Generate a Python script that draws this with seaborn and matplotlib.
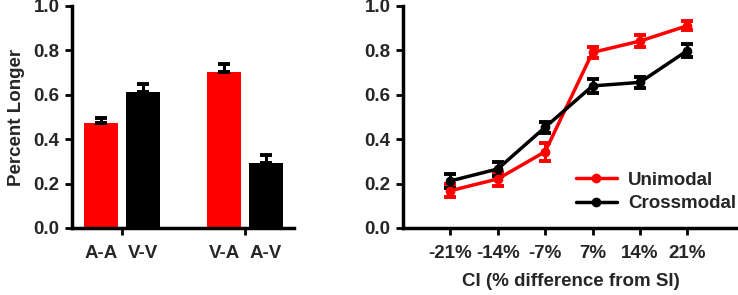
import matplotlib
matplotlib.use("Agg")
import matplotlib.pyplot as plt
import seaborn as sns
import pandas as pd
import numpy as np

# ---- data ----
bar_labels = ["A-A", "V-V", "V-A", "A-V"]
bar_group = ["G1", "G1", "G2", "G2"]
bar_kind = ["same", "cross", "same", "cross"]
bar_values = [0.473, 0.614, 0.704, 0.294]
bar_errors = [0.022, 0.035, 0.033, 0.033]

ci_labels = ["-21%", "-14%", "-7%", "7%", "14%", "21%"]
uni_values = [0.168, 0.221, 0.344, 0.791, 0.842, 0.911]
uni_errors = [0.030, 0.030, 0.040, 0.025, 0.028, 0.020]
cross_values = [0.212, 0.266, 0.454, 0.640, 0.656, 0.799]
cross_errors = [0.030, 0.030, 0.025, 0.030, 0.025, 0.030]

sns.set_theme(style="ticks")
plt.rcParams["font.family"] = ["Liberation Sans", "DejaVu Sans"]
plt.rcParams["font.weight"] = "bold"

RED = "#ff0000"
BLK = "#000000"
FS = 13.5

fig = plt.figure(figsize=(7.38, 2.95), dpi=100)
ax1 = fig.add_axes([72/738, 67/295, 222/738, 222/295])
ax2 = fig.add_axes([403/738, 67/295, 335/738, 222/295])

# ---- left: bars ----
df_bar = pd.DataFrame({"group": bar_group, "kind": bar_kind,
                       "value": bar_values, "label": bar_labels})
sns.barplot(data=df_bar, x="group", y="value", hue="kind",
            palette={"same": RED, "cross": BLK}, width=0.683, gap=0.2,
            ax=ax1, legend=False, saturation=1, edgecolor="none")
patches = sorted([p for p in ax1.patches if p.get_height() > 0], key=lambda p: p.get_x())
centers = [p.get_x() + p.get_width() / 2 for p in patches]
heights = [p.get_height() for p in patches]
ax1.errorbar(centers, heights, yerr=[np.zeros(len(bar_errors)), bar_errors],
             fmt="none", ecolor=BLK, elinewidth=2.2, capsize=4.5, capthick=2.8, zorder=3)
ax1.set_xlim(-0.407, 1.398)
ax1.set_ylim(0, 1.0)
ax1.set_yticks([0, 0.2, 0.4, 0.6, 0.8, 1.0])
ax1.set_yticklabels(["0.0", "0.2", "0.4", "0.6", "0.8", "1.0"], fontsize=FS, fontweight="bold")
ax1.set_xticks([0, 1])
ax1.set_xticklabels(["", ""])
ax1.set_xticks(centers, minor=True)
ax1.set_xticklabels(bar_labels, minor=True, fontsize=FS, fontweight="bold")
ax1.tick_params(axis="x", which="minor", length=0, pad=12)
ax1.tick_params(axis="x", which="major", length=5, width=2, direction="out", color=BLK)
ax1.tick_params(axis="y", length=5, width=2, color=BLK, pad=4)
ax1.set_xlabel("")
ax1.set_ylabel("Percent Longer", fontsize=FS, fontweight="bold", labelpad=6)
for s in ["top", "right"]:
    ax1.spines[s].set_visible(False)
for s in ["left", "bottom"]:
    ax1.spines[s].set_linewidth(2.5)
    ax1.spines[s].set_color(BLK)

# ---- right: lines ----
xpos = list(range(len(ci_labels)))
df_line = pd.DataFrame({
    "x": xpos * 2,
    "y": uni_values + cross_values,
    "cond": ["Unimodal"] * 6 + ["Crossmodal"] * 6,
})
ax2.errorbar(xpos, uni_values, yerr=uni_errors, fmt="none", ecolor=RED,
             elinewidth=2.2, capsize=4.5, capthick=2.8, zorder=1)
ax2.errorbar(xpos, cross_values, yerr=cross_errors, fmt="none", ecolor=BLK,
             elinewidth=2.2, capsize=4.5, capthick=2.8, zorder=1)
sns.lineplot(data=df_line, x="x", y="y", hue="cond",
             palette={"Unimodal": RED, "Crossmodal": BLK},
             marker="o", markersize=7, markeredgewidth=0, linewidth=2.5,
             ax=ax2, legend=True, hue_order=["Unimodal", "Crossmodal"], zorder=3)
ax2.set_xlim(-1, 6.07)
ax2.set_ylim(0, 1.0)
ax2.set_xticks(xpos)
ax2.set_xticklabels(ci_labels, fontsize=FS, fontweight="bold")
ax2.set_yticks([0, 0.2, 0.4, 0.6, 0.8, 1.0])
ax2.set_yticklabels(["0.0", "0.2", "0.4", "0.6", "0.8", "1.0"], fontsize=FS, fontweight="bold")
ax2.tick_params(axis="x", length=5, width=2, color=BLK, pad=7)
ax2.tick_params(axis="y", length=5, width=2, color=BLK, pad=4)
ax2.set_ylabel("")
ax2.set_xlabel("CI (% difference from SI)", fontsize=FS, fontweight="bold", labelpad=8)
for s in ["top", "right"]:
    ax2.spines[s].set_visible(False)
for s in ["left", "bottom"]:
    ax2.spines[s].set_linewidth(2.5)
    ax2.spines[s].set_color(BLK)
leg = ax2.legend(loc="lower right", bbox_to_anchor=(1.045, -0.005), frameon=False,
                 prop={"size": FS, "weight": "bold"}, handlelength=2.2,
                 labelspacing=0.35, handletextpad=0.6)

fig.savefig("out.png", dpi=100)
